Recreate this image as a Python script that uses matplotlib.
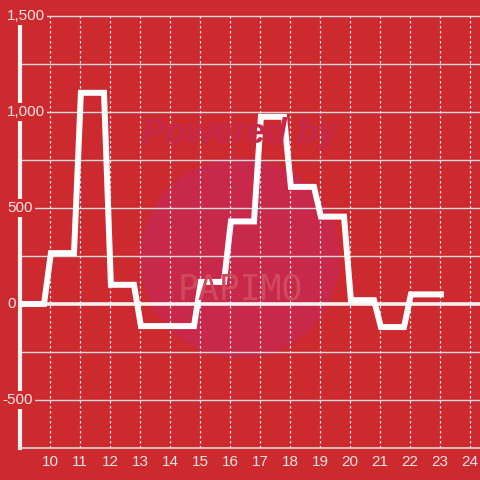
import matplotlib
matplotlib.use("Agg")
import matplotlib.pyplot as plt
from matplotlib.patches import Circle
from matplotlib.transforms import blended_transform_factory

# ---- data ----
hours = [9, 10, 11, 12, 13, 14, 15, 16, 17, 18, 19, 20, 21, 22, 23]
values = [0, 265, 1100, 100, -115, -115, 115, 430, 975, 610, 455, 20, -120, 50, 50]
start_off, hold_end = 0.03, 0.8   # each hourly value is held over most of the hour
series_start, series_end = 8.9, 23.13
x_ticks = list(range(10, 25))
y_label_vals = [1500, 1000, 500, 0, -500]
y_labels = ["1,500", "1,000", "500", "0", "-500"]
y_grid_vals = [1500, 1250, 1000, 750, 500, 250, -250, -500]

BG = "#cc2a2e"
TXT = "#f4e4e4"

xs, ys = [], []
for h, v in zip(hours, values):
    xs += [h + start_off, h + hold_end]
    ys += [v, v]
xs[0] = series_start
# the series stops shortly after the last hour starts
xs, ys = xs[:-1], ys[:-1]
xs[-1] = series_end

fig = plt.figure(figsize=(4.8, 4.8), dpi=100, facecolor=BG)
ax = fig.add_axes([20 / 480, 32 / 480, 460 / 480, 448 / 480])
ax.set_facecolor(BG)
ax.set_xlim(9, 9 + 460 / 30)
ax.set_ylim(-750, 1500 + 16 / 96 * 500)

# watermark
circ = Circle((0.5, 1 - 258 / 480), 100 / 480, transform=fig.transFigure,
              facecolor="#c8284a", edgecolor="none", zorder=0.2)
ax.add_patch(circ)
fig.text(0.5, 1 - 133 / 480, "Powered by", ha="center", va="center",
         fontsize=25, fontweight="bold", style="italic", color="#c6284a",
         family="Liberation Sans", zorder=0.3)
fig.text(0.5, 1 - 289 / 480, "PAPIMO", ha="center", va="center",
         fontsize=25, color="#cf4a5c", family="DejaVu Sans Mono", zorder=0.3)

# gridlines
for gv in y_grid_vals:
    ax.axhline(gv, color="#d9d9d9", lw=1.0, zorder=1)
ax.axhline(0, color="#f2f2f2", lw=2.6, zorder=1.5)
for xt in x_ticks:
    ax.plot([xt, xt], [-750, 1500], color="#e8e8e8", lw=0.9,
            linestyle=(0, (2, 2)), zorder=1)

# spines
for s in ["top", "right"]:
    ax.spines[s].set_visible(False)
ax.spines["left"].set_color("#f2f2f2")
ax.spines["left"].set_linewidth(3)
ax.spines["left"].set_bounds(-750, 1458)
ax.spines["left"].set_zorder(2)
ax.spines["bottom"].set_color("#d9d9d9")
ax.spines["bottom"].set_linewidth(1.2)

# main line
ax.plot(xs, ys, color="white", lw=4.3, solid_joinstyle="miter",
        solid_capstyle="butt", zorder=3, clip_on=True)

# ticks
ax.set_xticks(x_ticks)
ax.set_xticklabels([str(t) for t in x_ticks], fontsize=11, color=TXT,
                   family="Liberation Sans")
ax.tick_params(axis="x", length=0, pad=5)
ax.set_yticks([])
tr = blended_transform_factory(fig.transFigure, ax.transData)
for yv, lab in zip(y_label_vals, y_labels):
    x0 = 2 if lab.startswith("-") else 7
    ax.text(x0 / 480, yv, lab, transform=tr, ha="left", va="center",
            fontsize=11, color=TXT, family="Liberation Sans", zorder=4,
            bbox=dict(facecolor=BG, edgecolor="none", pad=1.5))

fig.savefig("out.png", dpi=100, facecolor=BG)
